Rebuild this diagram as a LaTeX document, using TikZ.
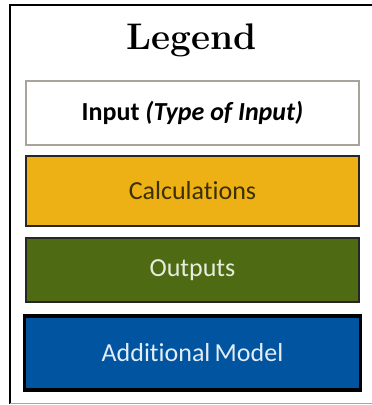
\documentclass[tikz,border=0pt]{standalone}
\usepackage{fontspec}
\setsansfont{Carlito}[Ligatures={NoCommon}]
\newfontfamily\legendfont{Latin Modern Roman}
\definecolor{calcfill}{HTML}{EDB116}
\definecolor{calctext}{HTML}{3A3000}
\definecolor{outfill}{HTML}{4E6A13}
\definecolor{outtext}{HTML}{E6EDDC}
\definecolor{modfill}{HTML}{0054A0}
\definecolor{modtext}{HTML}{E4ECF6}
\definecolor{inborder}{HTML}{A8A49C}
\begin{document}
\begin{tikzpicture}[x=1pt,y=-1pt,
  box/.style={draw, minimum width=333pt, inner sep=0pt, font=\sffamily\fontsize{26}{30}\selectfont},
  inbox/.style={box, draw=inborder, line width=1.2pt, fill=white, minimum height=64pt},
  calcbox/.style={box, draw=black!85, line width=1.8pt, fill=calcfill, text=calctext, minimum height=70pt},
  outbox/.style={box, draw=black!85, line width=1.8pt, fill=outfill, text=outtext, minimum height=64pt},
  modbox/.style={box, draw=black, line width=3.2pt, fill=modfill, text=modtext, minimum height=74pt, minimum width=336pt}]
\useasboundingbox (0,0) rectangle (372,405);
% outer frame
\draw[black, line width=2.4pt] (10,404) -- (10,5) -- (372,5);
\draw[black!35, line width=1pt] (10,403.5) -- (372,403.5);
\node (title) at (192,40) {\legendfont\bfseries\fontsize{37}{40}\selectfont Legend};
\node[inbox] (input) at (192.5,113) {\bfseries Input \itshape(Type of Input)};
\node[calcbox] (calc) at (192.5,191) {Calculations};
\node[outbox] (out) at (192.5,270) {Outputs};
\node[modbox] (mod) at (192.5,353) {Additional\,Model};
\end{tikzpicture}
\end{document}
